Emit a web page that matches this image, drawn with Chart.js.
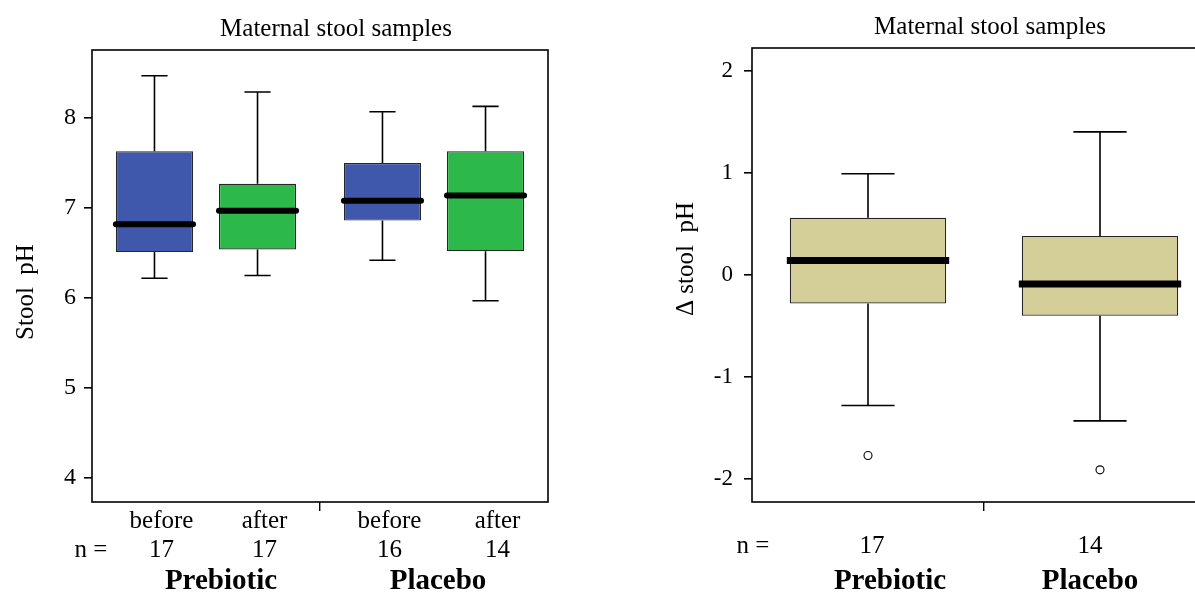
<!DOCTYPE html>
<html><head><meta charset="utf-8">
<script src="https://cdn.jsdelivr.net/npm/chart.js@4.4.1/dist/chart.umd.min.js"></script>
<style>
html,body{margin:0;padding:0;background:#fff;overflow:hidden;width:1195px;height:592px;position:relative;}
#c1{position:absolute;left:0;top:0;}
#c2{position:absolute;left:600px;top:0;}
</style></head><body>
<canvas id="c1" width="600" height="592"></canvas>
<canvas id="c2" width="640" height="592"></canvas>
<script>
// ---------- data ----------
const groups = ['Prebiotic', 'Placebo'];
const phases = ['before', 'after'];
const chartTitle = 'Maternal stool samples';

// left panel: stool pH before / after (per group)
const beforeN = [17, 16];
const afterN = [17, 14];
const beforeWhiskerLow = [6.22, 6.42];
const beforeQ1 = [6.51, 6.86];
const beforeMedian = [6.82, 7.08];
const beforeQ3 = [7.63, 7.50];
const beforeWhiskerHigh = [8.47, 8.07];
const afterWhiskerLow = [6.25, 5.97];
const afterQ1 = [6.54, 6.52];
const afterMedian = [6.97, 7.14];
const afterQ3 = [7.27, 7.63];
const afterWhiskerHigh = [8.29, 8.13];
const stoolPhTicks = [4, 5, 6, 7, 8];

// right panel: change in stool pH
const deltaN = [17, 14];
const deltaWhiskerLow = [-1.28, -1.43];
const deltaQ1 = [-0.28, -0.40];
const deltaMedian = [0.14, -0.09];
const deltaQ3 = [0.56, 0.38];
const deltaWhiskerHigh = [0.99, 1.40];
const deltaOutliers = [-1.77, -1.91];
const deltaTicks = [-2, -1, 0, 1, 2];

const SERIF = '"Liberation Serif", "Times New Roman", serif';

// ---------- plugins ----------
const boxPlugin = {
  id: 'boxparts',
  beforeDatasetsDraw(chart) {
    const ctx = chart.ctx, y = chart.scales.y;
    chart.data.datasets.forEach((ds, di) => {
      if (!ds.whiskerLow) return;
      const meta = chart.getDatasetMeta(di);
      meta.data.forEach((bar, j) => {
        const x = bar.x, cap = bar.width * 0.34;
        const yHi = y.getPixelForValue(ds.whiskerHigh[j]);
        const yQ3 = y.getPixelForValue(ds.data[j][1]);
        const yQ1 = y.getPixelForValue(ds.data[j][0]);
        const yLo = y.getPixelForValue(ds.whiskerLow[j]);
        ctx.save();
        ctx.strokeStyle = '#000';
        ctx.lineWidth = 1.6;
        ctx.beginPath();
        ctx.moveTo(x, yHi); ctx.lineTo(x, yQ3);
        ctx.moveTo(x, yQ1); ctx.lineTo(x, yLo);
        ctx.moveTo(x - cap / 2, yHi); ctx.lineTo(x + cap / 2, yHi);
        ctx.moveTo(x - cap / 2, yLo); ctx.lineTo(x + cap / 2, yLo);
        ctx.stroke();
        ctx.restore();
      });
    });
  },
  afterDatasetsDraw(chart) {
    const ctx = chart.ctx, y = chart.scales.y;
    chart.data.datasets.forEach((ds, di) => {
      if (!ds.median) return;
      const meta = chart.getDatasetMeta(di);
      const ms = ds.medianStyle;
      meta.data.forEach((bar, j) => {
        const ym = y.getPixelForValue(ds.median[j]);
        ctx.save();
        ctx.strokeStyle = '#000';
        ctx.lineWidth = ms.width;
        ctx.lineCap = ms.cap;
        ctx.beginPath();
        ctx.moveTo(bar.x - bar.width / 2 - ms.extra, ym);
        ctx.lineTo(bar.x + bar.width / 2 + ms.extra, ym);
        ctx.stroke();
        ctx.restore();
      });
    });
  }
};

const framePlugin = {
  id: 'frame',
  afterDraw(chart) {
    const a = chart.chartArea, ctx = chart.ctx;
    ctx.save();
    ctx.strokeStyle = '#000';
    ctx.lineWidth = 1.6;
    ctx.strokeRect(a.left, a.top, a.right - a.left, a.bottom - a.top);
    ctx.restore();
  }
};

function textPlugin(cfg) {
  return {
    id: 'texts',
    afterDraw(chart) {
      const ctx = chart.ctx, a = chart.chartArea;
      ctx.save();
      ctx.fillStyle = '#000';
      ctx.textAlign = 'center';
      ctx.textBaseline = 'alphabetic';
      ctx.font = '25px ' + SERIF;
      ctx.fillText(chartTitle, (a.left + a.right) / 2 + cfg.titleDx, cfg.titleY);
      // y axis title
      ctx.save();
      ctx.translate(a.left + cfg.yTitleDx, (a.top + a.bottom) / 2 + cfg.yTitleDy);
      ctx.rotate(-Math.PI / 2);
      ctx.textBaseline = 'middle';
      ctx.font = '25px ' + SERIF;
      ctx.fillText(cfg.yTitle, 0, 0);
      ctx.restore();
      // n =
      ctx.font = '25px ' + SERIF;
      ctx.fillText('n =', a.left + cfg.nDx, cfg.nY);
      chart.data.datasets.forEach((ds, di) => {
        if (!ds.n) return;
        const meta = chart.getDatasetMeta(di);
        meta.data.forEach((bar, j) => {
          const dx = cfg.labelDx[di][j];
          if (cfg.phaseLabels) ctx.fillText(ds.label, bar.x + dx, cfg.phaseY);
          ctx.fillText(String(ds.n[j]), bar.x + dx, cfg.nY);
        });
      });
      ctx.font = 'bold 29px ' + SERIF;
      const xs = chart.scales.x;
      groups.forEach((g, j) => {
        ctx.fillText(g, xs.getPixelForValue(j) + cfg.groupDx[j], cfg.groupY);
      });
      ctx.restore();
    }
  };
}

function yAxis(min, max, tickVals, width, size, pad) {
  return {
    min: min, max: max,
    afterBuildTicks: s => { s.ticks = tickVals.map(v => ({ value: v })); },
    grid: { drawOnChartArea: false, drawTicks: true, tickLength: 8, lineWidth: 1.6, color: '#000' },
    border: { display: false },
    ticks: { font: { family: SERIF, size: size }, color: '#000', padding: pad },
    afterFit: s => { s.width = width; }
  };
}
function xAxis() {
  return {
    grid: { offset: true, drawOnChartArea: false, drawTicks: true, tickLength: 9, lineWidth: 1.4,
            color: c => (c.index === 1 ? '#000' : 'rgba(0,0,0,0)') },
    border: { display: false },
    ticks: { display: false },
    afterFit: s => { s.height = 90; }
  };
}

// ---------- left chart ----------
new Chart(document.getElementById('c1'), {
  type: 'bar',
  data: {
    labels: groups,
    datasets: [
      { label: phases[0], data: groups.map((g, i) => [beforeQ1[i], beforeQ3[i]]),
        whiskerLow: beforeWhiskerLow, whiskerHigh: beforeWhiskerHigh, median: beforeMedian, n: beforeN,
        medianStyle: { width: 6, cap: 'round', extra: 0 },
        backgroundColor: '#3f58ab', borderColor: '#262626', borderWidth: 1.2, borderSkipped: false,
        categoryPercentage: 0.904, barPercentage: 0.748 },
      { label: phases[1], data: groups.map((g, i) => [afterQ1[i], afterQ3[i]]),
        whiskerLow: afterWhiskerLow, whiskerHigh: afterWhiskerHigh, median: afterMedian, n: afterN,
        medianStyle: { width: 6, cap: 'round', extra: 0 },
        backgroundColor: '#2db84a', borderColor: '#262626', borderWidth: 1.2, borderSkipped: false,
        categoryPercentage: 0.904, barPercentage: 0.748 }
    ]
  },
  options: {
    responsive: false, animation: false, devicePixelRatio: 1,
    layout: { padding: { left: 0, right: 52, top: 50, bottom: 0 } },
    plugins: { legend: { display: false }, tooltip: { enabled: false }, title: { display: false } },
    scales: { x: xAxis(), y: yAxis(3.733, 8.756, stoolPhTicks, 92, 24, 8) }
  },
  plugins: [boxPlugin, framePlugin,
    textPlugin({ titleDx: 16, titleY: 36, yTitle: 'Stool  pH', yTitleDx: -66, yTitleDy: 16,
                 nDx: -1, nY: 557, phaseLabels: true, phaseY: 528,
                 labelDx: [[7, 7], [7, 12]], groupDx: [15, 4], groupY: 589 })]
});

// ---------- right chart ----------
new Chart(document.getElementById('c2'), {
  type: 'bar',
  data: {
    labels: groups,
    datasets: [
      { type: 'line', label: 'outliers', data: deltaOutliers, showLine: false,
        pointStyle: 'circle', pointRadius: 4, pointBorderWidth: 1.1,
        pointBorderColor: '#000', pointBackgroundColor: '#fff' },
      { label: 'delta', data: groups.map((g, i) => [deltaQ1[i], deltaQ3[i]]),
        whiskerLow: deltaWhiskerLow, whiskerHigh: deltaWhiskerHigh, median: deltaMedian, n: deltaN,
        medianStyle: { width: 7, cap: 'butt', extra: 3 },
        backgroundColor: '#d4cf98', borderColor: '#262626', borderWidth: 1.2, borderSkipped: false,
        categoryPercentage: 1, barPercentage: 0.674 }
    ]
  },
  options: {
    responsive: false, animation: false, devicePixelRatio: 1,
    layout: { padding: { left: 0, right: 24, top: 48, bottom: 0 } },
    plugins: { legend: { display: false }, tooltip: { enabled: false }, title: { display: false } },
    scales: { x: xAxis(), y: yAxis(-2.225, 2.222, deltaTicks, 152, 23, 11) }
  },
  plugins: [boxPlugin, framePlugin,
    textPlugin({ titleDx: 6, titleY: 34, yTitle: '\u0394 stool  pH', yTitleDx: -66, yTitleDy: -16,
                 nDx: 1, nY: 553, phaseLabels: false, phaseY: 0,
                 labelDx: [[0, 0], [4, -10]], groupDx: [22, -10], groupY: 589 })]
});
</script>
</body></html>
